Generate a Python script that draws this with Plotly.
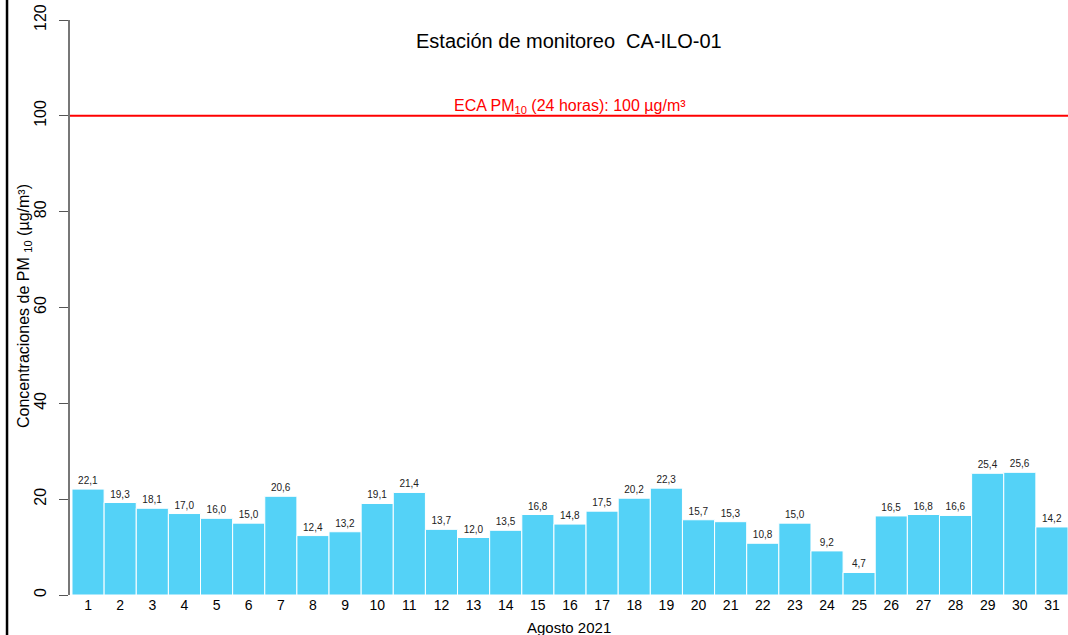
import plotly.graph_objects as go

days = [str(d) for d in range(1, 32)]
pm10 = [22.1, 19.3, 18.1, 17.0, 16.0, 15.0, 20.6, 12.4, 13.2, 19.1, 21.4, 13.7, 12.0, 13.5,
        16.8, 14.8, 17.5, 20.2, 22.3, 15.7, 15.3, 10.8, 15.0, 9.2, 4.7, 16.5, 16.8, 16.6,
        25.4, 25.6, 14.2]
eca_limit = 100
y_ticks = [0, 20, 40, 60, 80, 100, 120]

FONT = "Liberation Sans, Arial, sans-serif"

fig = go.Figure()
fig.add_trace(go.Bar(
    x=list(range(1, 32)), y=pm10,
    marker=dict(color="#54D2F7", line=dict(color="white", width=1)),
    texttemplate="%{y:.1f}", textposition="outside",
    textfont=dict(size=10, color="#222", family=FONT),
    cliponaxis=False, width=1.0,
))

fig.update_layout(
    width=1068, height=635,
    margin=dict(l=70, r=0, t=20, b=40),
    paper_bgcolor="white", plot_bgcolor="white",
    separators=",.",
    showlegend=False,
    font=dict(family=FONT, color="black"),
    xaxis=dict(range=[0.438, 31.5], tickmode="array", tickvals=list(range(1, 32)),
               ticktext=days, showline=False, showgrid=False, zeroline=False,
               ticks="", tickfont=dict(size=14), ticklabelstandoff=0),
    yaxis=dict(range=[0, 120], tickvals=y_ticks, showgrid=False, zeroline=False,
               showline=True, linecolor="#777", linewidth=1.5,
               ticks="outside", ticklen=9, tickcolor="#555", tickwidth=1,
               tickangle=-90, tickfont=dict(size=16), ticklabelstandoff=7),
    shapes=[
        dict(type="line", xref="paper", yref="y", x0=0, x1=1, y0=eca_limit, y1=eca_limit,
             line=dict(color="red", width=2)),
        dict(type="line", xref="paper", yref="paper", x0=-0.0631, x1=-0.0631, y0=-0.1, y1=1.1,
             line=dict(color="black", width=2.5)),
    ],
    annotations=[
        dict(text="Estación de monitoreo  CA-ILO-01", xref="paper", yref="paper",
             x=0.4995, y=1 - (41 - 20) / 575, showarrow=False, font=dict(size=20),
             xanchor="center", yanchor="middle"),
        dict(text="ECA PM<sub>10</sub> (24 horas): 100 µg/m³", xref="paper", yref="y",
             x=0.501, y=eca_limit, showarrow=False, font=dict(size=16, color="red"),
             xanchor="center", yanchor="bottom", yshift=-2),
        dict(text="Agosto 2021", xref="paper", yref="paper", x=0.5, y=-(627 - 595) / 575,
             showarrow=False, font=dict(size=15), xanchor="center", yanchor="middle"),
        dict(text="Concentraciones de PM <sub>10</sub> (µg/m³)", xref="paper", yref="paper",
             x=-(70 - 24) / 998, y=1 - (306 - 20) / 575, textangle=-90, showarrow=False,
             font=dict(size=16), xanchor="center", yanchor="middle"),
    ],
)

fig.write_html("out.html", config={"displayModeBar": False},
               post_script="document.body.style.margin='0';")
